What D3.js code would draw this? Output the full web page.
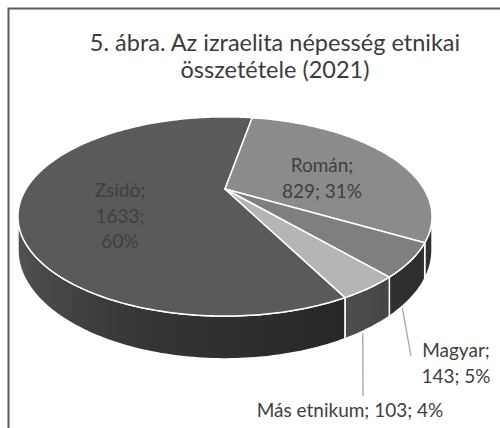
<!DOCTYPE html>
<html>
<head>
<meta charset="utf-8">
<script src="https://cdn.jsdelivr.net/npm/d3@7"></script>
<style>
  html, body { margin: 0; padding: 0; background: #fff; }
  svg { display: block; font-family: Lato, "Open Sans", sans-serif; }
</style>
</head>
<body>
<svg id="chart" width="500" height="428"></svg>
<script>
// data
const categories = ["Zsidó", "Román", "Magyar", "Más etnikum"];
const values = [1633, 829, 143, 103];
const topColors = ["#5a5a5a", "#8b8b8b", "#7f7f7f", "#b5b5b5"];
const titleLines = ["5. ábra. Az izraelita népesség etnikai", "összetétele (2021)"];

// label layout: how each label is split into lines and where it sits
const labelLayout = [
  { x: 120, y: 197, split: "all" },
  { x: 322, y: 172, split: "name" },
  { x: 456, y: 357, split: "name", leader: [411, 356], at: 0.72 },
  { x: 350, y: 417, split: "none", leader: [363, 396], at: 0.64 }
];

const width = 500, height = 428;
const svg = d3.select("#chart");

// frame (chart is cropped at right and bottom)
svg.append("rect")
  .attr("x", 8.5).attr("y", 8.5)
  .attr("width", 560).attr("height", 460)
  .attr("fill", "none")
  .attr("stroke", "#5c5c5c")
  .attr("stroke-width", 2);

// title
svg.append("g")
  .selectAll("text")
  .data(titleLines)
  .join("text")
    .attr("x", 275)
    .attr("y", (d, i) => 51 + i * 27)
    .attr("text-anchor", "middle")
    .attr("font-size", 23.5)
    .attr("fill", "#3b3b3b")
    .text(d => d);

// 3D pie projection (perspective, camera above and in front)
const X0 = 225, Y0 = 189, A = 199, B = 92, C = 0.276, D = 31;
function proj(theta, z) {
  const u = Math.sin(theta), v = -Math.cos(theta), w = 1 - C * v;
  return [X0 + A * u / w, Y0 + (B * v + D * z) / w];
}
function arcPts(a0, a1, z) {
  const n = Math.max(2, Math.ceil(Math.abs(a1 - a0) / (Math.PI / 180)));
  return d3.range(n + 1).map(i => proj(a0 + (a1 - a0) * i / n, z));
}

const total = d3.sum(values);
const firstEnd = 10 * Math.PI / 180;            // Zsidó ends just right of 12 o'clock
const start = firstEnd - 2 * Math.PI * values[0] / total;
const pie = d3.pie().sort(null).value(d => d)
  .startAngle(start).endAngle(start + 2 * Math.PI);
const arcs = pie(values).map((d, i) => ({ ...d, name: categories[i], color: topColors[i], i }));

const line = d3.line();
const pct = d3.format(".0%");

// gradient for side lighting
const defs = svg.append("defs");
const grad = defs.append("linearGradient")
  .attr("id", "sideShade")
  .attr("gradientUnits", "userSpaceOnUse")
  .attr("x1", X0 - A * 1.04).attr("x2", X0 + A * 1.04)
  .attr("y1", 0).attr("y2", 0);
grad.append("stop").attr("offset", 0).attr("stop-color", "#fff").attr("stop-opacity", 0.14);
grad.append("stop").attr("offset", 0.4).attr("stop-color", "#000").attr("stop-opacity", 0.05);
grad.append("stop").attr("offset", 1).attr("stop-color", "#000").attr("stop-opacity", 0.4);

// visible part of the side wall
const visA = Math.acos(-C), visB = 2 * Math.PI - Math.acos(-C);
function visibleRange(d) {
  for (const off of [-2 * Math.PI, 0, 2 * Math.PI]) {
    const s0 = Math.max(d.startAngle, visA + off), s1 = Math.min(d.endAngle, visB + off);
    if (s1 > s0) return [s0, s1];
  }
  return null;
}

const sides = svg.append("g");
arcs.forEach(d => {
  const r = visibleRange(d);
  if (!r) return;
  const pts = arcPts(r[0], r[1], 0).concat(arcPts(r[1], r[0], 1));
  const p = line(pts) + "Z";
  sides.append("path").attr("d", p)
    .attr("fill", d3.rgb(d.color).darker(1.5));
  sides.append("path").attr("d", p)
    .attr("fill", "url(#sideShade)")
    .attr("stroke", "#fff")
    .attr("stroke-width", 1.5)
    .attr("stroke-linejoin", "round");
});

// top faces
svg.append("g")
  .selectAll("path")
  .data(arcs)
  .join("path")
    .attr("d", d => line([[X0, Y0]].concat(arcPts(d.startAngle, d.endAngle, 0))) + "Z")
    .attr("fill", d => d.color)
    .attr("stroke", "#fff")
    .attr("stroke-width", 1.5)
    .attr("stroke-linejoin", "round");

// leader lines
arcs.forEach((d, i) => {
  const L = labelLayout[i];
  if (!L.leader) return;
  const a = d.startAngle + (d.endAngle - d.startAngle) * L.at;
  const p0 = proj(a, 1);
  svg.append("line")
    .attr("x1", p0[0]).attr("y1", p0[1] + 2)
    .attr("x2", L.leader[0]).attr("y2", L.leader[1])
    .attr("stroke", "#a6a6a6")
    .attr("stroke-width", 1.3);
});

// data labels
arcs.forEach((d, i) => {
  const L = labelLayout[i];
  const p = pct(d.value / total);
  let lines;
  if (L.split === "all") lines = [d.name + ";", d.value + ";", p];
  else if (L.split === "name") lines = [d.name + ";", d.value + "; " + p];
  else lines = [d.name + "; " + d.value + "; " + p];
  svg.append("text")
    .attr("text-anchor", "middle")
    .attr("font-size", 19)
    .attr("fill", "#404040")
    .selectAll("tspan")
    .data(lines)
    .join("tspan")
      .attr("x", L.x)
      .attr("y", (t, k) => L.y + k * 25.5)
      .text(t => t);
});
</script>
</body>
</html>
